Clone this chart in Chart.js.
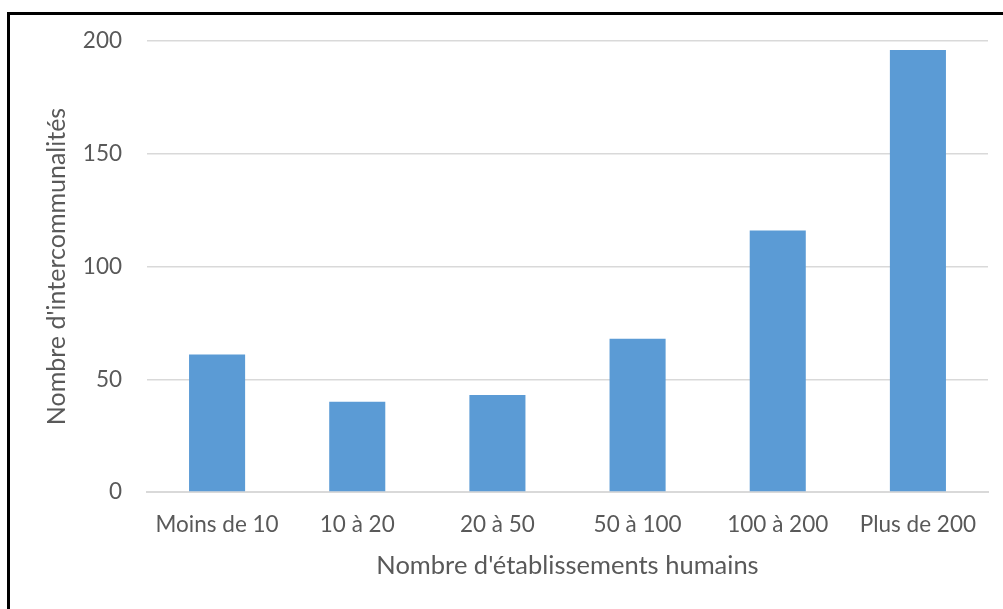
<!DOCTYPE html>
<html lang="fr">
<head>
    <meta charset="UTF-8">
    <title>Intercommunalités par nombre d'établissements humains</title>
    <script src="https://cdn.jsdelivr.net/npm/chart.js"></script>
    <style>
        html, body { margin: 0; padding: 0; background: #fff; overflow: hidden; }
        #wrap { position: relative; width: 1003px; height: 609px; }
        #frame {
            position: absolute; left: 7px; top: 12px;
            width: 1100px; height: 700px;
            border-top: 3px solid #000; border-left: 3px solid #000;
            pointer-events: none;
        }
    </style>
</head>
<body>
    <div id="wrap">
        <canvas id="chart" width="1003" height="609"></canvas>
        <div id="frame"></div>
    </div>

    <script>
        // données
        const categories = ['Moins de 10', '10 à 20', '20 à 50', '50 à 100', '100 à 200', 'Plus de 200'];
        const counts = [61, 40, 43, 68, 116, 196];
        const yTicks = [0, 50, 100, 150, 200];

        const textColor = '#595959';
        const fontFamily = 'Lato, "Open Sans", sans-serif';

        const ctx = document.getElementById('chart').getContext('2d');
        new Chart(ctx, {
            type: 'bar',
            data: {
                labels: categories,
                datasets: [{
                    data: counts,
                    backgroundColor: '#5b9bd5',
                    borderWidth: 0,
                    barPercentage: 0.4,
                    categoryPercentage: 1,
                }],
            },
            options: {
                responsive: false,
                animation: false,
                layout: { padding: { top: 41, right: 15, left: 0, bottom: 0 } },
                plugins: {
                    legend: { display: false },
                    tooltip: { enabled: false },
                },
                scales: {
                    x: {
                        grid: { display: false, drawTicks: false },
                        border: { display: true, color: '#d9d9d9', width: 2 },
                        ticks: {
                            color: textColor,
                            padding: 19,
                            font: { family: fontFamily, size: 22.5 },
                        },
                        title: {
                            display: true,
                            text: "Nombre d'établissements humains",
                            color: textColor,
                            font: { family: fontFamily, size: 25.5 },
                            padding: { top: 0, bottom: 28 },
                        },
                        afterFit: (scale) => { scale.height = 117; },
                    },
                    y: {
                        min: 0,
                        max: 200,
                        afterBuildTicks: (scale) => {
                            scale.ticks = yTicks.map(v => ({ value: v }));
                        },
                        grid: {
                            color: (c) => c.tick && c.tick.value === 0 ? 'rgba(0,0,0,0)' : '#d9d9d9',
                            lineWidth: 1.5,
                            drawTicks: false,
                        },
                        border: { display: false },
                        ticks: {
                            color: textColor,
                            padding: 25,
                            font: { family: fontFamily, size: 22.5 },
                        },
                        title: {
                            display: true,
                            text: "Nombre d'intercommunalités",
                            color: textColor,
                            font: { family: fontFamily, size: 25 },
                            padding: { top: 42, bottom: 0 },
                        },
                        afterFit: (scale) => { scale.width = 147; },
                    },
                },
            },
        });
    </script>
</body>
</html>
